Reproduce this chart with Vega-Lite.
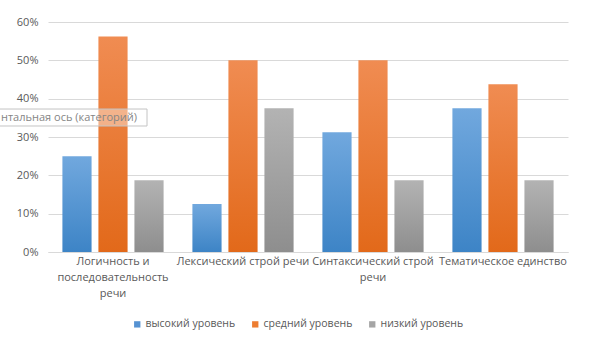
{
  "$schema": "https://vega.github.io/schema/vega-lite/v6.json",
  "width": 520,
  "height": 230,
  "autosize": "none",
  "padding": {"left": 48, "top": 22, "right": 26, "bottom": 101},
  "background": "white",
  "config": {
    "view": {"stroke": null},
    "font": "Open Sans",
    "axis": {"labelFont": "Open Sans", "labelColor": "#595959", "labelFontSize": 11, "titleFont": "Open Sans"},
    "legend": {"labelFont": "Open Sans", "padding": 0}
  },
  "data": {
    "values": [
      {"cat": "Логичность и последовательность речи", "series": "высокий уровень", "value": 0.25},
      {"cat": "Логичность и последовательность речи", "series": "средний уровень", "value": 0.5625},
      {"cat": "Логичность и последовательность речи", "series": "низкий уровень", "value": 0.1875},
      {"cat": "Лексический строй речи", "series": "высокий уровень", "value": 0.125},
      {"cat": "Лексический строй речи", "series": "средний уровень", "value": 0.5},
      {"cat": "Лексический строй речи", "series": "низкий уровень", "value": 0.375},
      {"cat": "Синтаксический строй речи", "series": "высокий уровень", "value": 0.3125},
      {"cat": "Синтаксический строй речи", "series": "средний уровень", "value": 0.5},
      {"cat": "Синтаксический строй речи", "series": "низкий уровень", "value": 0.1875},
      {"cat": "Тематическое единство", "series": "высокий уровень", "value": 0.375},
      {"cat": "Тематическое единство", "series": "средний уровень", "value": 0.4375},
      {"cat": "Тематическое единство", "series": "низкий уровень", "value": 0.1875}
    ]
  },
  "encoding": {
    "x": {
      "field": "cat",
      "type": "nominal",
      "sort": null,
      "scale": {
        "domain": ["Логичность и последовательность речи", "Лексический строй речи", "Синтаксический строй речи", "Тематическое единство"],
        "paddingInner": 0,
        "paddingOuter": 0
      },
      "axis": {
        "title": null,
        "labelAngle": 0,
        "ticks": false,
        "domain": true,
        "domainColor": "#d9d9d9",
        "labelPadding": 9,
        "labelLineHeight": 16,
        "labelBaseline": "middle",
        "labelExpr": "datum.value == 'Логичность и последовательность речи' ? ['Логичность и', 'последовательность', 'речи'] : datum.value == 'Синтаксический строй речи' ? ['Синтаксический строй', 'речи'] : datum.value"
      }
    },
    "xOffset": {
      "field": "series",
      "type": "nominal",
      "scale": {"domain": ["высокий уровень", "средний уровень", "низкий уровень"], "paddingInner": 0.19, "paddingOuter": 0.4}
    },
    "y": {
      "field": "value",
      "type": "quantitative",
      "scale": {"domain": [0, 0.6], "nice": false},
      "axis": {
        "title": null,
        "format": "%",
        "values": [0, 0.1, 0.2, 0.3, 0.4, 0.5, 0.6],
        "domain": false,
        "ticks": false,
        "labelPadding": 10,
        "gridColor": "#d9d9d9",
        "grid": true
      }
    }
  },
  "layer": [
    {
      "transform": [{"filter": "datum.series == 'высокий уровень'"}],
      "mark": {"type": "bar", "fill": {"gradient": "linear", "x1": 0, "y1": 0, "x2": 0, "y2": 1, "stops": [{"offset": 0, "color": "#71a8de"}, {"offset": 1, "color": "#3d84c6"}]}}
    },
    {
      "transform": [{"filter": "datum.series == 'средний уровень'"}],
      "mark": {"type": "bar", "fill": {"gradient": "linear", "x1": 0, "y1": 0, "x2": 0, "y2": 1, "stops": [{"offset": 0, "color": "#f08c52"}, {"offset": 1, "color": "#e2691a"}]}}
    },
    {
      "transform": [{"filter": "datum.series == 'низкий уровень'"}],
      "mark": {"type": "bar", "fill": {"gradient": "linear", "x1": 0, "y1": 0, "x2": 0, "y2": 1, "stops": [{"offset": 0, "color": "#b3b3b3"}, {"offset": 1, "color": "#8e8e8e"}]}}
    },
    {
      "mark": {"type": "bar"},
      "encoding": {
        "y": {"datum": 0},
        "color": {
          "field": "series",
          "type": "nominal",
          "scale": {"domain": ["высокий уровень", "средний уровень", "низкий уровень"], "range": ["#5592d2", "#ed7d31", "#a5a5a5"]},
          "legend": {
            "title": null,
            "orient": "none",
            "legendX": 84,
            "legendY": 297,
            "direction": "horizontal",
            "symbolType": "square",
            "symbolSize": 40,
            "symbolStrokeWidth": 0,
            "labelFontSize": 10.5,
            "labelColor": "#595959",
            "labelOffset": 3,
            "columnPadding": 14
          }
        }
      }
    },
    {
      "data": {"values": [{"cat": "Логичность и последовательность речи", "lo": 0.3287, "hi": 0.373}]},
      "mark": {"type": "bar", "width": 152, "xOffset": -42, "fill": "white", "fillOpacity": 0.4, "stroke": "#c4c4c4", "strokeWidth": 1},
      "encoding": {
        "xOffset": null,
        "x": {"field": "cat", "type": "nominal"},
        "y": {"field": "lo", "type": "quantitative"},
        "y2": {"field": "hi"}
      }
    },
    {
      "data": {"values": [{"note": "нтальная ось (категорий)", "cat": "Логичность и последовательность речи", "pos": 0.35}]},
      "mark": {"type": "text", "align": "right", "baseline": "middle", "dx": 24, "fontSize": 11, "color": "#858585", "font": "Open Sans"},
      "encoding": {
        "xOffset": null,
        "x": {"field": "cat", "type": "nominal"},
        "y": {"field": "pos", "type": "quantitative"},
        "text": {"field": "note"}
      }
    }
  ]
}
